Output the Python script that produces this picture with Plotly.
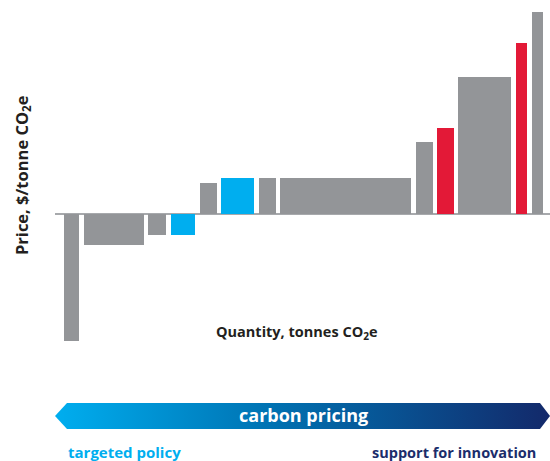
import numpy as np
import plotly.graph_objects as go

# ---- data (abatement options: quantity width, price) ----
quantities = [15, 60, 18, 24.5, 17, 33, 17, 131, 17, 16.5, 53, 11.5, 11]
prices = [-127, -31, -21, -21, 31, 36, 36, 36, 72, 86, 137, 171, 202]
groups = ["other", "other", "other", "targeted", "other", "targeted", "other",
          "other", "other", "innovation", "other", "innovation", "other"]

group_colors = {"other": "#939598", "targeted": "#00aeef", "innovation": "#e31937"}
GAP = 4.5

W, H = 550, 461

widths = np.array(quantities, dtype=float)
starts = np.concatenate([[0.0], np.cumsum(widths + GAP)[:-1]])
centers = starts + widths / 2

fig = go.Figure()

fig.add_trace(go.Bar(
    x=centers, y=prices, width=widths, base=0,
    marker=dict(color=[group_colors[g] for g in groups], line=dict(width=0)),
    hoverinfo="skip", showlegend=False,
))

# coordinate helpers: pixel -> data (x offset 64 px, zero line at 214 px)
X0, Y0 = 64, 214
def px_x(p):
    return p - X0
def px_y(p):
    return Y0 - p

# gradient arrow "carbon pricing"
ax = [55, 67, 540, 550, 540, 67, 55]
ay = [416, 403, 403, 416, 429, 429, 416]
fig.add_trace(go.Scatter(
    x=[px_x(v) for v in ax], y=[px_y(v) for v in ay],
    mode="lines", fill="toself", line=dict(width=0),
    fillgradient=dict(type="horizontal",
                      colorscale=[[0, "#00aeef"], [0.45, "#0070b0"], [1, "#13296a"]]),
    hoverinfo="skip", showlegend=False,
))

fig.add_shape(type="line", x0=px_x(55), x1=px_x(550), y0=0, y1=0,
              line=dict(color="#a7a9ac", width=2), layer="below")

FONT = "Open Sans"
DARK = "#231f20"

def pap(x, y):
    return x / W, 1 - y / H

annots = []
xx, yy = pap(297, 332)
annots.append(dict(x=xx, y=yy, text="<b>Quantity, tonnes CO<sub>2</sub>e</b>",
                   font=dict(family=FONT, size=14.5, color=DARK)))
xx, yy = pap(22, 175)
annots.append(dict(x=xx, y=yy, text="<b>Price, $/tonne CO<sub>2</sub>e</b>", textangle=-90,
                   font=dict(family=FONT, size=16.5, color=DARK)))
xx, yy = pap(303, 415)
annots.append(dict(x=xx, y=yy, text="<b>carbon pricing</b>",
                   font=dict(family=FONT, size=18, color="white")))
xx, yy = pap(124.5, 452)
annots.append(dict(x=xx, y=yy, text="<b>targeted policy</b>",
                   font=dict(family=FONT, size=15, color="#00aeef")))
xx, yy = pap(454, 452)
annots.append(dict(x=xx, y=yy, text="<b>support for innovation</b>",
                   font=dict(family=FONT, size=14.5, color="#1b2d6b")))
for a in annots:
    a.update(xref="paper", yref="paper", showarrow=False, xanchor="center", yanchor="middle")

fig.update_layout(
    width=W, height=H,
    margin=dict(l=0, r=0, t=0, b=0),
    paper_bgcolor="white", plot_bgcolor="white",
    xaxis=dict(range=[px_x(0), px_x(W)], visible=False, fixedrange=True),
    yaxis=dict(range=[px_y(H), px_y(0)], visible=False, fixedrange=True),
    annotations=annots,
    bargap=0,
    hovermode=False,
)

fig.write_html(
    "out.html",
    config={"displayModeBar": False},
    post_script="document.body.style.margin='0px';document.body.style.overflow='hidden';",
)
